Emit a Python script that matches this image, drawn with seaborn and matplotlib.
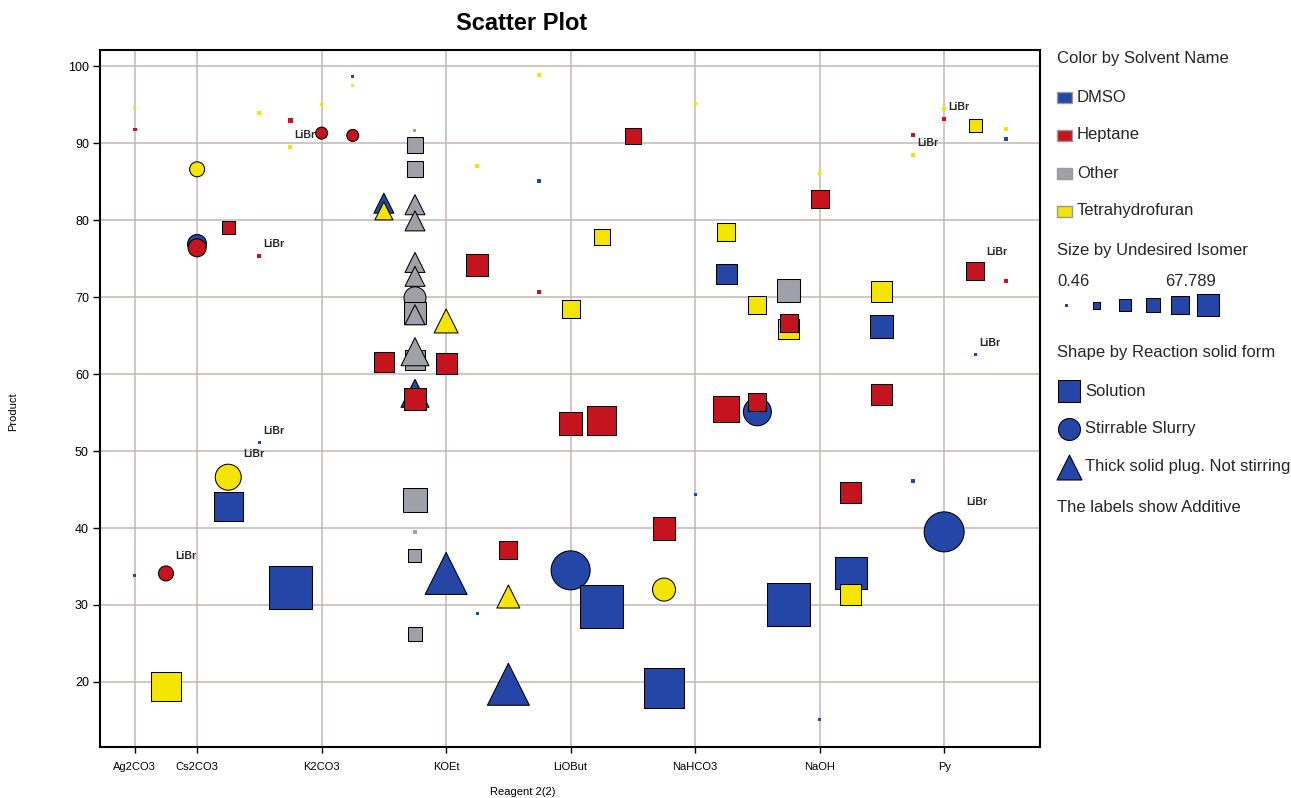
import numpy as np
import pandas as pd
import matplotlib
matplotlib.use("Agg")
import matplotlib.pyplot as plt
from matplotlib.patches import Rectangle
import seaborn as sns

sns.set_style("ticks")
plt.rcParams['font.family'] = ['Liberation Sans', 'DejaVu Sans']

# eixo x (Reagent 2(2))
reagent_ticks = [0.5, 1, 2, 3, 4, 5, 6, 7]
reagent_labels = ['Ag2CO3', 'Cs2CO3', 'K2CO3', 'KOEt', 'LiOBut', 'NaHCO3', 'NaOH', 'Py']
product_ticks = list(range(20, 101, 10))

solvent_names = {'D': 'DMSO', 'H': 'Heptane', 'O': 'Other', 'T': 'Tetrahydrofuran'}
form_names = {'S': 'Solution', 'C': 'Stirrable Slurry', 'P': 'Thick solid plug. Not stirring'}

# pontos na ordem de desenho (os pequenos primeiro)
solvent_code = list("THTHTTDTHD" "DOTDTHTODD" "TDDHTTHTDHD"
                    "HHTHDHDTHO" "OOOOOOOOOO" "DHTHHTTHHH" "OODHTODDDH"
                    "TDTDHDTHTD" "OTTHTDHTHD" "HHHDDTD")
form_code = list("SSSSSSSSSS" "SSSSSSSSSS" "SSSSSSSSSSS"
                 "CCCSCCPPSS" "SPPPPCSPSP" "PSPSSSSSSS" "SSPSPSPCSS"
                 "CSCSCSSSSS" "SSSSSSSSSC" "SSSCSSS")
reagent_pos = [0.5, 0.5, 1.5, 1.75, 1.75, 2.0, 2.25, 2.25, 1.5, 1.5,
               0.5, 2.75, 3.25, 3.75, 3.75, 3.75, 5.0, 2.75, 3.25, 5.0,
               6.0, 6.0, 6.75, 6.75, 6.75, 7.0, 7.0, 7.5, 7.5, 7.5, 7.25,
               2.0, 2.25, 1.0, 1.25, 1.0, 1.0, 2.5, 2.5, 2.5, 2.75,
               2.75, 2.75, 2.75, 2.75, 2.75, 2.75, 2.75, 2.75, 2.75, 2.75,
               2.75, 2.75, 3.0, 3.0, 3.25, 4.25, 4.0, 4.5, 4.0, 4.25,
               2.75, 2.75, 3.0, 3.5, 3.5, 2.75, 3.5, 4.0, 4.25, 4.75,
               4.75, 4.75, 1.25, 1.25, 0.75, 1.75, 0.75, 6.0, 5.25, 5.25,
               5.75, 5.5, 5.75, 5.75, 6.5, 6.5, 7.25, 7.25, 5.25, 5.5,
               5.5, 6.5, 6.25, 7.0, 6.25, 6.25, 5.75]
product = [94.6, 91.8, 93.9, 93.0, 89.5, 95.0, 98.6, 97.5, 75.3, 51.1,
           33.8, 91.7, 87.0, 85.1, 98.8, 70.6, 95.2, 39.5, 28.9, 44.4,
           86.1, 15.1, 46.1, 91.0, 88.4, 94.4, 93.1, 91.9, 90.5, 72.1, 62.5,
           91.3, 91.0, 86.6, 79.0, 76.9, 76.4, 82.2, 81.2, 61.6, 89.7,
           86.6, 82.0, 79.9, 74.5, 72.7, 69.9, 67.9, 67.7, 61.8, 62.9,
           57.5, 56.8, 66.9, 61.4, 74.2, 77.8, 68.4, 90.9, 53.6, 54.0,
           43.7, 36.4, 34.1, 37.1, 31.1, 26.2, 19.7, 34.5, 29.8, 40.0,
           32.0, 19.2, 46.6, 42.8, 34.1, 32.3, 19.4, 82.8, 78.4, 73.0,
           70.8, 69.0, 65.8, 66.6, 70.7, 66.2, 73.4, 92.3, 55.5, 55.1,
           56.4, 57.4, 44.6, 39.5, 34.1, 31.3, 30.0]
isomer = [0.46, 1.0, 2.1, 3.7, 2.1, 0.46, 0.46, 0.46, 2.1, 0.46,
          0.46, 0.46, 2.1, 2.1, 2.1, 2.1, 0.46, 1.0, 0.46, 0.46,
          0.46, 0.46, 2.1, 2.1, 2.1, 2.1, 2.1, 2.1, 2.1, 2.1, 0.46,
          15.2, 15.2, 20.2, 16.9, 26.7, 25.1, 28.4, 25.1, 28.4, 21.8,
          21.8, 28.4, 28.4, 28.4, 28.4, 31.7, 31.7, 28.4, 28.4, 41.5,
          41.5, 31.7, 34.9, 30.0, 31.7, 21.8, 25.1, 21.8, 33.3, 43.2,
          34.9, 16.9, 64.5, 25.1, 33.3, 18.5, 64.5, 59.6, 66.1, 33.3,
          33.3, 61.2, 38.2, 43.2, 20.2, 66.1, 43.2, 25.1, 25.1, 30.0,
          33.3, 25.1, 28.4, 25.1, 30.0, 33.3, 25.1, 16.9, 38.2, 41.5,
          25.1, 30.0, 30.0, 61.2, 48.1, 30.0, 66.1]
additive = ([''] * 4 + ['LiBr'] + [''] * 3 + ['LiBr', 'LiBr']
            + [''] * 10
            + [''] * 4 + ['LiBr', '', 'LiBr', '', '', '', 'LiBr']
            + [''] * 40
            + ['', '', 'LiBr', '', 'LiBr', '', '', '', '', '']
            + [''] * 6 + ['LiBr', '', '', '']
            + ['', '', '', 'LiBr', '', '', ''])

iso_min, iso_max = 0.46, 67.789

df = pd.DataFrame({'solvent': [solvent_names[c] for c in solvent_code],
                   'form': [form_names[c] for c in form_code],
                   'reagent_pos': reagent_pos, 'product': product,
                   'isomer': isomer, 'additive': additive})

solvent_colors = {'DMSO': '#2446a6', 'Heptane': '#c5141d',
                  'Other': '#a0a1a8', 'Tetrahydrofuran': '#f4e500'}
form_markers = {'Solution': 's', 'Stirrable Slurry': 'o',
                'Thick solid plug. Not stirring': '^'}


def side_px(v):
    # largura do marcador em pixels
    return 3 + (np.asarray(v) - iso_min) / (iso_max - iso_min) * 41


size_map = {v: float(side_px(v) * 0.72) ** 2 for v in df['isomer'].unique()}
edge_w = np.where(side_px(df['isomer']) < 6, 0.0, 0.75)

W, H = 1291, 798
fig = plt.figure(figsize=(W / 100, H / 100), dpi=100)
ax = fig.add_axes([100 / W, 1 - 747 / H, 940 / W, 697 / H])

sns.scatterplot(data=df, x='reagent_pos', y='product', hue='solvent', style='form',
                size='isomer', palette=solvent_colors, markers=form_markers,
                sizes=size_map, edgecolor='black', linewidth=edge_w,
                legend=False, ax=ax, zorder=3)

for _, r in df[df['additive'] != ''].iterrows():
    half = float(side_px(r['isomer'])) / 2
    ax.annotate(r['additive'], (r['reagent_pos'], r['product']),
                xytext=(half + 2, half + 10), textcoords='offset pixels',
                fontsize=7.5, fontweight='bold', ha='left', va='center', zorder=4)

ax.set_xlim(0.22, 7.77)
ax.set_ylim(11.55, 102.1)
ax.set_xticks(reagent_ticks, reagent_labels, fontsize=8)
ax.set_yticks(product_ticks, [str(t) for t in product_ticks], fontsize=9)
ax.grid(True, color='#c4b8b4', linewidth=1.1)
ax.set_axisbelow(True)
ax.tick_params(axis='x', length=4, width=1, pad=7, colors='black')
ax.tick_params(axis='y', length=5, width=1, pad=3, colors='black')
for sp in ax.spines.values():
    sp.set_color('black')
    sp.set_linewidth(1.5)

ax.set_xlabel('Reagent 2(2)', fontsize=8, color='black')
ax.xaxis.set_label_coords(0.45, -0.057)
ax.set_ylabel('Product', fontsize=8, color='black')
ax.yaxis.set_label_coords(-0.087, 0.481)

fig.text(522 / W, 1 - 24 / H, 'Scatter Plot', ha='center', va='center',
         fontsize=17, fontweight='bold', color='black')

# legenda montada a mao, em coordenadas de pixel
lax = fig.add_axes([1045 / W, 0, (W - 1045) / W, 1])
lax.set_xlim(1045, W)
lax.set_ylim(H, 0)
lax.axis('off')

fs = 12
lax.text(1057, 58, 'Color by Solvent Name', fontsize=fs, va='center')
for name, y in zip(solvent_colors, [97, 135, 173, 211]):
    lax.add_patch(Rectangle((1057, y - 5.5), 15, 11, facecolor=solvent_colors[name],
                            edgecolor='#9a9a9a', linewidth=1))
    lax.text(1077, y, name, fontsize=fs, va='center')

lax.text(1057, 251, 'Size by Undesired Isomer', fontsize=fs, va='center')
lax.text(1057, 282, f'{iso_min:.2f}', fontsize=fs, va='center')
lax.text(1165, 282, f'{iso_max:.3f}', fontsize=fs, va='center')
leg_w = [3, 7, 12, 14.5, 17.5, 22]
leg_x = [1066, 1096, 1125, 1153, 1180, 1208]
for x, w in zip(leg_x, leg_w):
    lax.scatter([x], [305], marker='s', s=(w * 0.72) ** 2, color=solvent_colors['DMSO'],
                edgecolor='black', linewidth=0 if w < 6 else 0.75)

lax.text(1057, 352, 'Shape by Reaction solid form', fontsize=fs, va='center')
for (name, m), y, w in zip(form_markers.items(), [391, 429, 467], [22, 22, 25]):
    lax.scatter([1068.5], [y], marker=m, s=(w * 0.72) ** 2, color=solvent_colors['DMSO'],
                edgecolor='black', linewidth=0.75)
    lax.text(1085, y, name, fontsize=fs, va='center')

lax.text(1057, 507, 'The labels show Additive', fontsize=fs, va='center')

plt.savefig('out.png', dpi=100)
